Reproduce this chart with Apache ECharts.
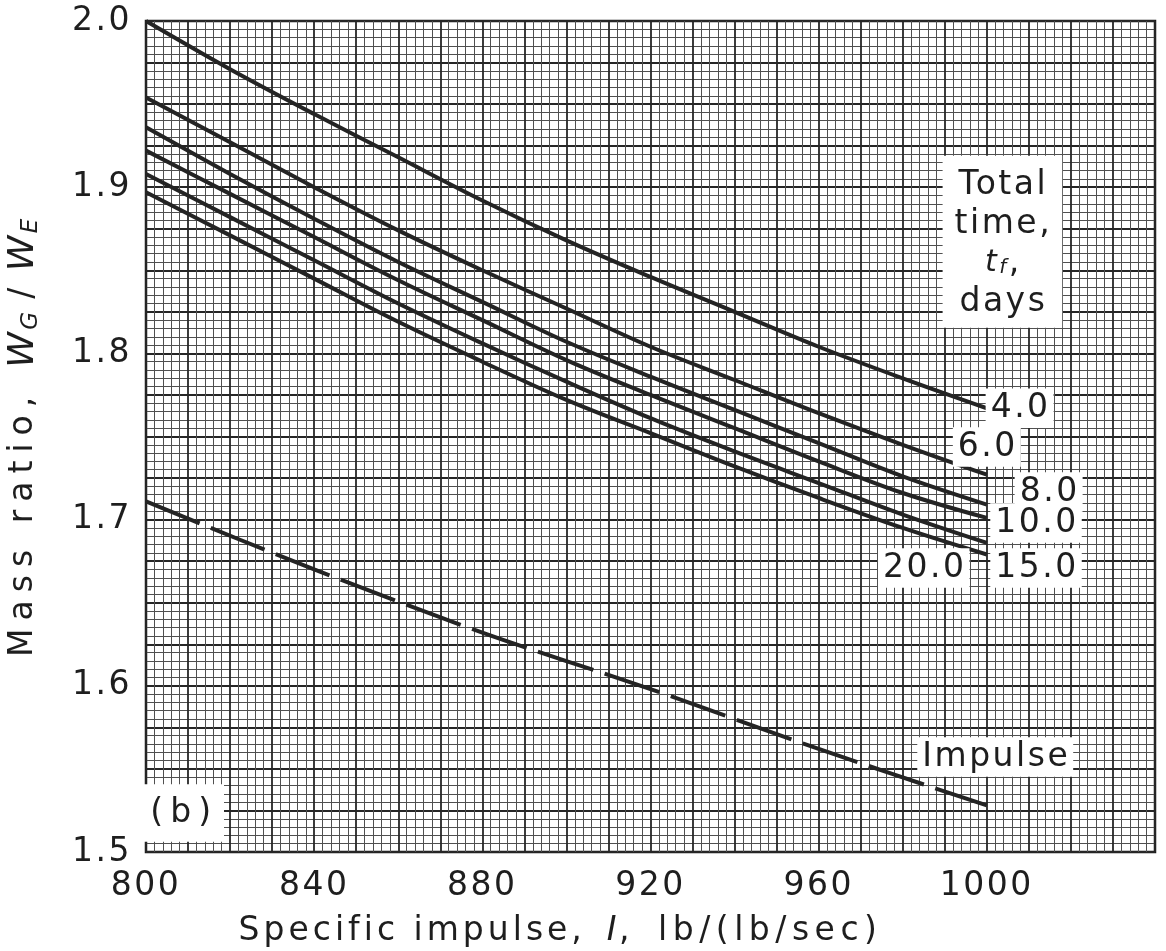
<!DOCTYPE html>
<html>
<head>
<meta charset="utf-8">
<script src="https://cdn.jsdelivr.net/npm/echarts@6/dist/echarts.min.js"></script>
<style>
html,body{margin:0;padding:0;background:#fff;}
#chart{width:1166px;height:951px;}
</style>
</head>
<body>
<div id="chart"></div>
<script>
// Specific impulse values (x) at which curves are sampled
const impulse = [800, 820, 840, 860, 880, 900, 920, 940, 960, 980, 1000];
// Mass ratio curves, one per total time (days)
const mr4  = [2.000, 1.971, 1.944, 1.918, 1.892, 1.868, 1.846, 1.825, 1.804, 1.785, 1.767];
const mr6  = [1.954, 1.927, 1.900, 1.874, 1.850, 1.827, 1.804, 1.784, 1.764, 1.745, 1.727];
const mr8  = [1.936, 1.908, 1.881, 1.855, 1.831, 1.807, 1.786, 1.766, 1.746, 1.726, 1.709];
const mr10 = [1.922, 1.896, 1.870, 1.844, 1.820, 1.796, 1.775, 1.755, 1.735, 1.716, 1.701];
const mr15 = [1.908, 1.882, 1.856, 1.830, 1.806, 1.783, 1.761, 1.741, 1.722, 1.703, 1.686];
const mr20 = [1.897, 1.871, 1.845, 1.819, 1.795, 1.772, 1.752, 1.732, 1.713, 1.695, 1.679];
// Impulsive (dashed) reference curve
const impulseX  = [800, 840, 880, 920, 960, 1000];
const mrImpulse = [1.711, 1.670, 1.632, 1.598, 1.562, 1.528];
// Tick labels
const xTickLabels = [800, 840, 880, 920, 960, 1000];
const yTickLabels = ['1.5', '1.6', '1.7', '1.8', '1.9', '2.0'];
// Curve labels (text, anchor x, anchor y)
const curveLabels = [
  ['4.0', 1007.8, 1.767],
  ['6.0', 1000.0, 1.7437],
  ['8.0', 1014.7, 1.7166],
  ['10.0', 1011.7, 1.698],
  ['15.0', 1011.7, 1.6709],
  ['20.0', 985.0, 1.6709],
  ['Impulse', 1002.0, 1.5572],
  ['(b)', 808.6, 1.5235]
];
const legendTitle = ['Total', 'time,', 'tf,', 'days'];
const legendAnchor = [1003.7, 1.8672];

// Lettering: spaced-out drafting letters (canvas letterSpacing per text run)
const wideRuns = {'Mass ratio,': 8, 'Specific impulse,': 4, 'lb/(lb/sec)': 5.5, '(b)': 7, '/': 6};
const defaultSpacing = 2.5;
(function(){
  const P = CanvasRenderingContext2D.prototype;
  function lsFor(t){ t = String(t); const k = t.trim(); return (k in wideRuns) ? wideRuns[k] : (k.length ? defaultSpacing : 0); }
  ['fillText', 'strokeText', 'measureText'].forEach(fn => {
    const orig = P[fn];
    P[fn] = function(text){
      const ls = lsFor(text);
      if (!ls || !('letterSpacing' in this)) return orig.apply(this, arguments);
      const prev = this.letterSpacing;
      this.letterSpacing = ls + 'px';
      try { return orig.apply(this, arguments); } finally { this.letterSpacing = prev; }
    };
  });
})();

const FONT = 'DejaVu Sans';
const INK = '#1e1e1e';
const FS = 33;

function pairs(xs, ys){ return xs.map((x,i)=>[x, ys[i]]); }

const curves = [mr4, mr6, mr8, mr10, mr15, mr20];
const series = curves.map(c => ({
  type: 'line', data: pairs(impulse, c), smooth: 0.35, symbol: 'none',
  lineStyle: {color: '#242424', width: 4}, z: 3
}));
series.push({
  type: 'line', data: pairs(impulseX, mrImpulse), smooth: 0.3, symbol: 'none',
  lineStyle: {color: '#242424', width: 4, type: [58, 12]}, z: 3
});
series.push({
  type: 'scatter', symbolSize: 1, itemStyle: {color: 'rgba(0,0,0,0)', opacity: 1}, z: 5,
  data: curveLabels.map(l => ({value: [l[1], l[2]], name: l[0],
    label: l[0] === '(b)' ? {padding: [10, 6, 12, 10]} : undefined})),
  label: {
    show: true, position: 'inside', formatter: p => p.name,
    fontFamily: FONT, fontSize: FS, color: INK, backgroundColor: '#fff',
    padding: [3, 3, 1, 5]
  }
});
series.push({
  type: 'scatter', symbolSize: 1, itemStyle: {color: 'rgba(0,0,0,0)', opacity: 1}, z: 5,
  data: [{value: legendAnchor, name: 'legend'}],
  label: {
    show: true, position: 'inside',
    formatter: '{n|' + legendTitle[0] + '}\n{n|' + legendTitle[1] + '}\n{i|t}{s|f}{n|,}\n{n|' + legendTitle[3] + '}',
    backgroundColor: '#fff', padding: [10, 10, 6, 12], align: 'center',
    rich: {
      n: {fontFamily: FONT, fontSize: FS, color: INK, lineHeight: 39, align: 'center'},
      i: {fontFamily: FONT, fontSize: 30, fontStyle: 'italic', color: INK, lineHeight: 39},
      s: {fontFamily: FONT, fontSize: 20, fontStyle: 'italic', color: INK, lineHeight: 39, padding: [10, 0, 0, 0]}
    }
  }
});

const chart = echarts.init(document.getElementById('chart'));
chart.setOption({
  backgroundColor: '#fff',
  animation: false,
  grid: {left: 146, right: 11, top: 21, bottom: 99, containLabel: false, outerBoundsMode: 'none',
         show: true, borderColor: '#1a1a1a', borderWidth: 2.5},
  xAxis: {
    type: 'value', min: 800, max: 1040, interval: 10,
    axisLine: {show: false}, axisTick: {show: false},
    axisLabel: {
      formatter: v => xTickLabels.includes(Math.round(v)) ? String(Math.round(v)) : '',
      fontFamily: FONT, fontSize: FS, color: INK, margin: 17
    },
    splitLine: {show: true, lineStyle: {color: '#262626', width: 1.8}},
    minorTick: {show: false, splitNumber: 5},
    minorSplitLine: {show: true, lineStyle: {color: '#505050', width: 1}},
    name: '{n|Specific impulse,}{n|  }{i|I}{n|,  }{n|lb/(lb/sec)}',
    nameLocation: 'middle', nameGap: 62,
    nameTextStyle: {
      fontFamily: FONT, fontSize: FS, color: INK, padding: [0, 180, 0, 0],
      rich: {
        n: {fontFamily: FONT, fontSize: FS, color: INK},
        i: {fontFamily: FONT, fontSize: FS, fontStyle: 'italic', color: INK}
      }
    }
  },
  yAxis: {
    type: 'value', min: 1.5, max: 2.0, interval: 0.025,
    axisLine: {show: false}, axisTick: {show: false},
    axisLabel: {
      formatter: v => { const t = v.toFixed(1); return (Math.abs(v - parseFloat(t)) < 1e-6 && yTickLabels.includes(t)) ? t : ''; },
      fontFamily: FONT, fontSize: FS, color: INK, margin: 14
    },
    splitLine: {show: true, lineStyle: {color: '#262626', width: 1.8}},
    minorTick: {show: false, splitNumber: 5},
    minorSplitLine: {show: true, lineStyle: {color: '#505050', width: 1}},
    name: '{n|Mass ratio,}{n|  }{i|W}{s|G}{n| }{n|/}{n| }{i|W}{s|E}',
    nameLocation: 'middle', nameGap: 102, nameRotate: 90,
    nameTextStyle: {
      fontFamily: FONT, fontSize: FS, color: INK,
      rich: {
        n: {fontFamily: FONT, fontSize: FS, color: INK},
        i: {fontFamily: FONT, fontSize: 36, fontStyle: 'italic', color: INK},
        s: {fontFamily: FONT, fontSize: 23, fontStyle: 'italic', color: INK, padding: [16, 0, 0, 0]}
      }
    }
  },
  series: series
});
</script>
</body>
</html>
